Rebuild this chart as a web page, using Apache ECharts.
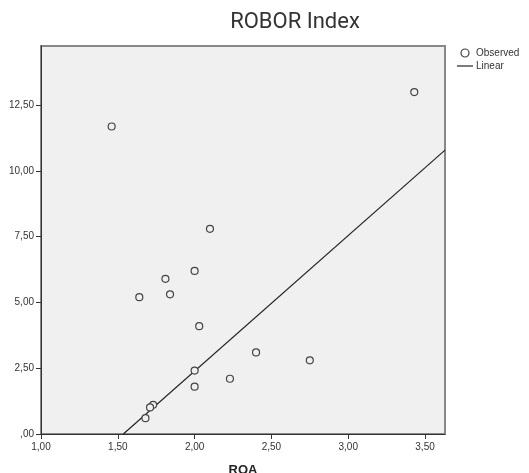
<!DOCTYPE html>
<html>
<head>
<meta charset="utf-8">
<script src="https://cdn.jsdelivr.net/npm/echarts@6/dist/echarts.min.js"></script>
<style>html,body{margin:0;padding:0;background:#fff}#c{width:529px;height:473px}</style>
</head>
<body>
<div id="c"></div>
<script>
var roa = [1.46, 3.43, 2.10, 2.00, 1.81, 1.84, 1.64, 2.03, 2.40, 2.75, 2.00, 2.23, 2.00, 1.73, 1.71, 1.68];
var robor = [11.69, 13.00, 7.80, 6.20, 5.90, 5.31, 5.20, 4.10, 3.10, 2.80, 2.41, 2.10, 1.80, 1.11, 1.01, 0.60];
var lineX = [1.536, 3.63];
var lineY = [0, 10.79];
var xTicks = [1.0, 1.5, 2.0, 2.5, 3.0, 3.5];
var yTicks = [0, 2.5, 5.0, 7.5, 10.0, 12.5];

function fmt(v) {
  var s = v.toFixed(2).replace('.', ',');
  if (s.indexOf('0,') === 0) s = s.substring(1);
  return s;
}

var chart = echarts.init(document.getElementById('c'));
chart.setOption({
  animation: false,
  backgroundColor: '#ffffff',
  title: {
    text: 'ROBOR Index',
    left: 295, textAlign: 'center', top: 11, padding: 0,
    textStyle: { fontFamily: 'Roboto', fontWeight: 'normal', fontSize: 22, color: '#333' }
  },
  legend: {
    orient: 'vertical', left: 457, top: 48, itemGap: 3, padding: 0,
    itemWidth: 16, itemHeight: 8, symbolKeepAspect: true,
    textStyle: { fontFamily: 'Liberation Sans', fontSize: 10, color: '#333', padding: [0, 0, 0, -2] },
    data: [
      { name: 'Observed', icon: 'circle', itemStyle: { color: '#fff', borderColor: '#444', borderWidth: 1.2 } },
      { name: 'Linear', icon: 'path://M0,0H16V1.2H0Z', itemStyle: { color: '#222' } }
    ]
  },
  grid: {
    left: 41, top: 46, right: 84, bottom: 39,
    outerBoundsMode: 'none', containLabel: false,
    show: true, backgroundColor: '#f0f0f0', borderColor: '#888', borderWidth: 2
  },
  xAxis: {
    type: 'value', min: 1.0, max: 3.63, interval: 0.5,
    name: 'ROA', nameLocation: 'middle', nameGap: 30,
    nameTextStyle: { fontFamily: 'Liberation Sans', fontWeight: 'bold', fontSize: 13, color: '#222' },
    axisLine: { show: true, onZero: false, lineStyle: { color: '#333', width: 1 } },
    axisTick: { show: true, length: 5, lineStyle: { color: '#333' }, customValues: xTicks },
    axisLabel: { customValues: xTicks, formatter: fmt, fontFamily: 'Liberation Sans', fontSize: 10, color: '#333', margin: 8 },
    splitLine: { show: false }
  },
  yAxis: {
    type: 'value', min: 0, max: 14.75, interval: 2.5,
    axisLine: { show: true, onZero: false, lineStyle: { color: '#333', width: 1 } },
    axisTick: { show: true, length: 5, lineStyle: { color: '#333' }, customValues: yTicks },
    axisLabel: { customValues: yTicks, formatter: fmt, fontFamily: 'Liberation Sans', fontSize: 10, color: '#333', margin: 7 },
    splitLine: { show: false }
  },
  series: [
    {
      name: 'Observed', type: 'scatter', symbol: 'circle', symbolSize: 7,
      itemStyle: { color: '#f0f0f0', borderColor: '#444', borderWidth: 1.2, opacity: 1 },
      data: roa.map(function (x, i) { return [x, robor[i]]; }),
      z: 3
    },
    {
      name: 'Linear', type: 'line', showSymbol: false, symbol: 'none',
      lineStyle: { color: '#222', width: 1.2 },
      itemStyle: { color: '#222' },
      data: lineX.map(function (x, i) { return [x, lineY[i]]; }),
      z: 2
    }
  ]
});
</script>
</body>
</html>
